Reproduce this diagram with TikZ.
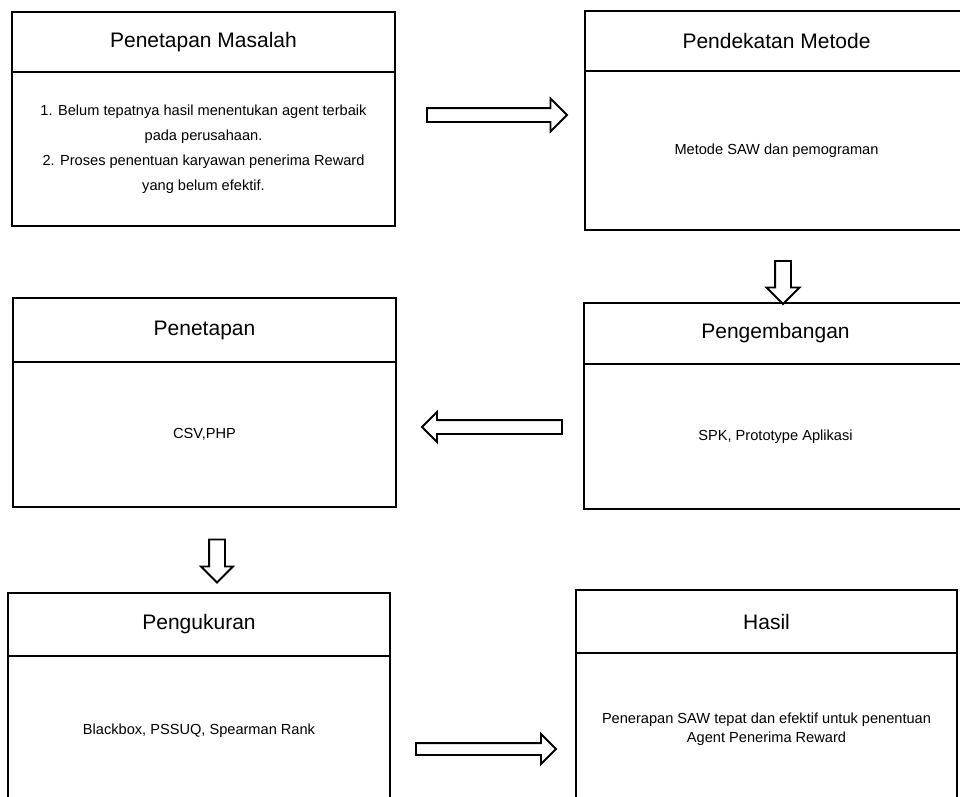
\documentclass[tikz,border=0pt]{standalone}
\usepackage{fontspec}
\setmainfont{Liberation Sans}
\usetikzlibrary{shapes.arrows}
\begin{document}
\begin{tikzpicture}[x=1pt,y=-1pt,
  boxline/.style={draw=black,line width=2pt,inner sep=0pt,outer sep=0pt},
  hdr/.style={boxline,font=\fontsize{21}{25}\selectfont},
  bdy/.style={boxline,align=center,font=\fontsize{14.6}{18.7}\selectfont},
  blockarrow/.style={single arrow,draw=black,fill=white,line width=1.9pt,inner xsep=0pt,outer sep=0pt,single arrow tip angle=90}
]
\clip (0,0) rectangle (960,796);
\fill[white] (0,0) rectangle (960,796);

% Box 1
\node[hdr,minimum width=383,minimum height=60] (h1) at (203.5,42) {Penetapan Masalah};
\node[bdy,minimum width=383,minimum height=154,anchor=north,font=\fontsize{14.6}{25}\selectfont] (b1) at (h1.south)
  {1. Belum tepatnya hasil menentukan agent terbaik\\pada perusahaan.\\2. Proses penentuan karyawan penerima Reward\\yang belum efektif.};

% Box 2
\node[hdr,minimum width=383,minimum height=60] (h2) at (776.5,41) {Pendekatan Metode};
\node[bdy,minimum width=383,minimum height=159,anchor=north] (b2) at (h2.south) {Metode SAW dan pemograman};

% Box 3
\node[hdr,minimum width=383,minimum height=61] (h3) at (775.5,333.5) {Pengembangan};
\node[bdy,minimum width=383,minimum height=145,anchor=north] (b3) at (h3.south) {SPK, Prototype Aplikasi};

% Box 4
\node[hdr,minimum width=383,minimum height=64] (h4) at (204.5,330) {Penetapan};
\node[bdy,minimum width=383,minimum height=145,anchor=north] (b4) at (h4.south) {CSV,PHP};

% Box 5
\node[hdr,minimum width=382,minimum height=63] (h5) at (199,624.5) {Pengukuran};
\node[bdy,minimum width=382,minimum height=150,anchor=north] (b5) at (h5.south) {Blackbox, PSSUQ, Spearman Rank};

% Box 6
\node[hdr,minimum width=381,minimum height=63] (h6) at (766.5,621.5) {Hasil};
\node[bdy,minimum width=381,minimum height=153,anchor=north] (b6) at (h6.south)
  {Penerapan SAW tepat dan efektif untuk penentuan\\Agent Penerima Reward};

% Block arrows
\node[blockarrow,minimum height=140,inner ysep=6pt,single arrow head extend=9.5pt] (a1) at (493.5,115) {};
\node[blockarrow,minimum height=43,inner ysep=7pt,single arrow head extend=8.5pt,rotate=-90] (a2) at (783,278.5) {};
\node[blockarrow,minimum height=140,inner ysep=6pt,single arrow head extend=8pt,rotate=180] (a3) at (495.5,427) {};
\node[blockarrow,minimum height=43,inner ysep=7pt,single arrow head extend=8pt,rotate=-90] (a4) at (217,557) {};
\node[blockarrow,minimum height=140,inner ysep=5pt,single arrow head extend=9pt] (a5) at (483,749) {};
\end{tikzpicture}
\end{document}
